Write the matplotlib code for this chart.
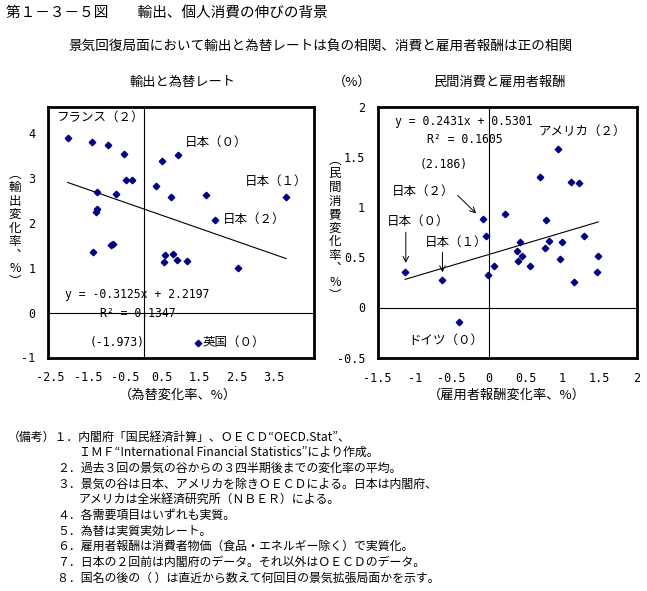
import numpy as np
import matplotlib.pyplot as plt

plt.rcParams['font.family'] = ['Noto Sans CJK JP', 'DejaVu Sans']

# 輸出と為替レート (x: 為替変化率, y: 輸出変化率)
fx_change = [-2.04, -1.40, -0.95, -0.52, -0.48, -0.32, -1.26, -0.75, -1.26, -1.27,
             -1.37, -0.87, -0.82, 0.34, 0.50, 0.93, 0.74, 1.68, 1.92, 3.83,
             0.57, 0.80, 0.55, 0.91, 1.17, 2.54, 1.45]
export_change = [3.89, 3.80, 3.73, 3.55, 2.96, 2.95, 2.70, 2.65, 2.32, 2.25,
                 1.35, 1.50, 1.53, 2.83, 3.39, 3.51, 2.59, 2.63, 2.06, 2.57,
                 1.29, 1.32, 1.14, 1.18, 1.15, 1.00, -0.67]

# 民間消費と雇用者報酬 (x: 雇用者報酬変化率, y: 民間消費変化率)
wage_change = [-1.13, -0.63, -0.08, -0.03, -0.01, 0.07, 0.22, 0.42, 0.38, 0.45,
               0.40, 0.56, 0.69, 0.76, 0.77, 0.82, 0.94, 0.99, 0.96, 1.11,
               1.22, 1.29, 1.15, 1.48, 1.47, -0.40]
cons_change = [0.35, 0.27, 0.88, 0.71, 0.32, 0.41, 0.93, 0.65, 0.56, 0.51,
               0.46, 0.41, 1.30, 0.59, 0.87, 0.66, 1.58, 0.65, 0.48, 1.25,
               1.24, 0.71, 0.25, 0.51, 0.35, -0.14]

left_xticks = [-2.5, -1.5, -0.5, 0.5, 1.5, 2.5, 3.5]
left_yticks = [-1, 0, 1, 2, 3, 4]
right_xticks = [-1.5, -1, -0.5, 0, 0.5, 1, 1.5, 2]
right_yticks = [-0.5, 0, 0.5, 1, 1.5, 2]

notes = [
    (8, '（備考）１．内閣府「国民経済計算」、ＯＥＣＤ“OECD.Stat”、'),
    (79, 'ＩＭＦ“International Financial Statistics”により作成。'),
    (57, '２．過去３回の景気の谷からの３四半期後までの変化率の平均。'),
    (57, '３．景気の谷は日本、アメリカを除きＯＥＣＤによる。日本は内閣府、'),
    (79, 'アメリカは全米経済研究所（ＮＢＥＲ）による。'),
    (57, '４．各需要項目はいずれも実質。'),
    (57, '５．為替は実質実効レート。'),
    (57, '６．雇用者報酬は消費者物価（食品・エネルギー除く）で実質化。'),
    (57, '７．日本の２回前は内閣府のデータ。それ以外はＯＥＣＤのデータ。'),
    (57, '８．国名の後の（ ）は直近から数えて何回目の景気拡張局面かを示す。'),
]

W, H = 647, 591
fig = plt.figure(figsize=(W / 100, H / 100), dpi=100)
mono = ['DejaVu Sans Mono', 'Noto Sans CJK JP']
navy = '#000080'


def ftext(x, y, s, **kw):
    # figure text placed in pixel coords of the 647x591 picture
    kw.setdefault('va', 'center')
    return fig.text(x / W, 1 - y / H, s, **kw)


def setup(ax, xlim, ylim, xt, yt):
    ax.set_xlim(xlim)
    ax.set_ylim(ylim)
    ax.set_xticks(xt)
    ax.set_yticks(yt)
    ax.set_xticklabels([f'{v:g}' for v in xt], family=mono, fontsize=8.5)
    ax.set_yticklabels([f'{v:g}' for v in yt], family=mono, fontsize=8.5)
    ax.tick_params(length=0)
    ax.tick_params(axis='x', pad=10)
    ax.tick_params(axis='y', pad=9)
    for s in ax.spines.values():
        s.set_linewidth(2)
    ax.axhline(0, color='k', lw=0.8, zorder=1)
    ax.axvline(0, color='k', lw=0.8, zorder=1)


def scatter_fit(ax, x, y):
    x = np.array(x)
    y = np.array(y)
    ax.plot(x, y, 'D', ms=3.3, color=navy, mec=navy, zorder=3)
    k, b = np.polyfit(x, y, 1)
    xs = np.array([x.min(), x.max()])
    ax.plot(xs, k * xs + b, color='k', lw=0.8, zorder=2)


# ---- left panel
ax1 = fig.add_axes([48 / W, 1 - 357.5 / H, 266 / W, 251 / H])
setup(ax1, (-2.57, 4.58), (-1.0, 4.6), left_xticks, left_yticks)
scatter_fit(ax1, fx_change, export_change)

lab = dict(fontsize=9, va='center', ha='left')
ax1.text(-2.36, 4.37, 'フランス（２）', **lab)
ax1.text(1.11, 3.81, '日本（０）', **lab)
ax1.text(2.72, 2.93, '日本（１）', **lab)
ax1.text(2.13, 2.08, '日本（２）', **lab)
ax1.text(1.57, -0.66, '英国（０）', **lab)
ax1.text(-2.12, 0.41, 'y = -0.3125x + 2.2197', family=mono, fontsize=8.3, va='center')
ax1.text(-1.17, -0.01, 'R² = 0.1347', family=mono, fontsize=8.3, va='center')
ax1.text(-1.44, -0.66, '(-1.973)', family=mono, fontsize=8.3, va='center')

# ---- right panel
ax2 = fig.add_axes([377.7 / W, 1 - 357.7 / H, 259 / W, 251 / H])
setup(ax2, (-1.5, 2.0), (-0.5, 2.0), right_xticks, right_yticks)
scatter_fit(ax2, wage_change, cons_change)

ax2.text(-1.27, 1.857, 'y = 0.2431x + 0.5301', family=mono, fontsize=8.3, va='center')
ax2.text(-0.83, 1.67, 'R² = 0.1605', family=mono, fontsize=8.3, va='center')
ax2.text(-0.93, 1.427, '(2.186)', family=mono, fontsize=8.3, va='center')
ax2.text(0.675, 1.757, 'アメリカ（２）', **lab)
ax2.text(-1.31, 1.16, '日本（２）', **lab)
ax2.text(-1.38, 0.86, '日本（０）', **lab)
ax2.text(-0.86, 0.654, '日本（１）', **lab)
ax2.text(-1.08, -0.33, 'ドイツ（０）', **lab)

arrow = dict(arrowstyle='->', color='k', lw=0.7, shrinkA=0, shrinkB=0)
ax2.annotate('', xy=(-0.17, 0.937), xytext=(-0.42, 1.117), arrowprops=arrow)
ax2.annotate('', xy=(-1.12, 0.444), xytext=(-1.12, 0.75), arrowprops=arrow)
ax2.annotate('', xy=(-0.625, 0.35), xytext=(-0.625, 0.55), arrowprops=arrow)

# ---- titles and axis captions
ftext(6, 14, '第１－３－５図　　輸出、個人消費の伸びの背景', fontsize=10.5)
ftext(68, 47, '景気回復局面において輸出と為替レートは負の相関、消費と雇用者報酬は正の相関', fontsize=9.8)
ftext(183, 82, '輸出と為替レート', fontsize=9.5, ha='center')
ftext(352, 82, '（%）', fontsize=9.5, ha='center')
ftext(500, 82, '民間消費と雇用者報酬', fontsize=9.5, ha='center')

ftext(178, 395, '（為替変化率、%）', fontsize=9.5, ha='center')
ftext(507, 395, '（雇用者報酬変化率、%）', fontsize=9.5, ha='center')
ftext(15, 228, '\n'.join('︵輸出変化率︑%︶'), fontsize=9, ha='center', linespacing=1.05)
ftext(335, 228, '\n'.join('︵民間消費変化率︑%︶'), fontsize=9, ha='center', linespacing=1.05)

for i, (x, s) in enumerate(notes):
    ftext(x, 437 + i * 15.67, s, fontsize=8.6)

fig.savefig('out.png', dpi=100)
